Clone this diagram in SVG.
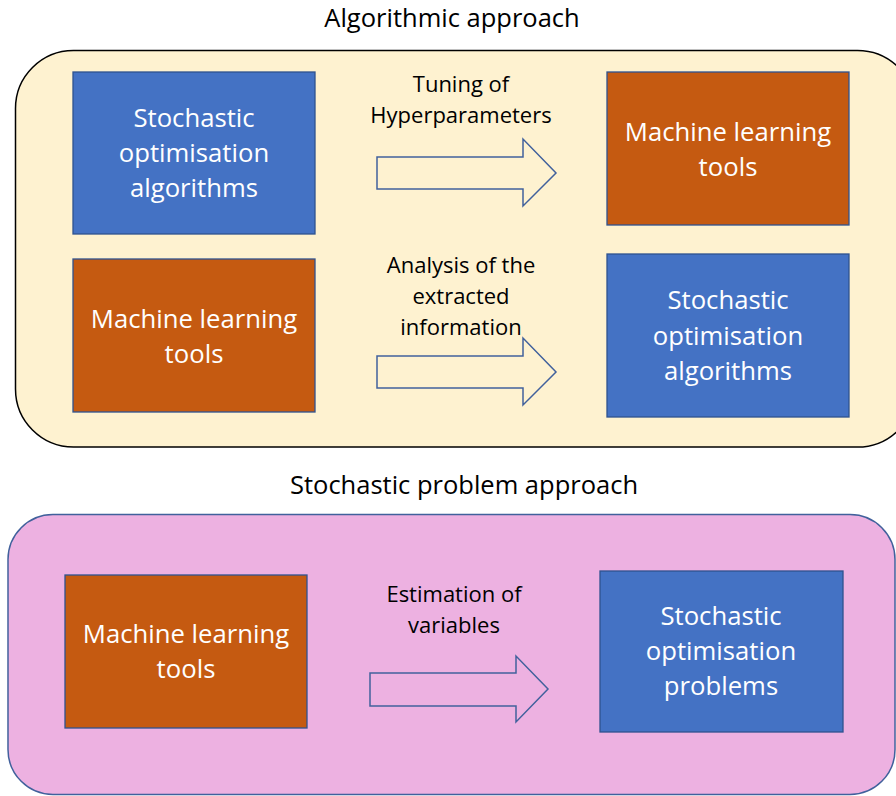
<svg xmlns="http://www.w3.org/2000/svg" width="896" height="796" viewBox="0 0 896 796">
  <style>
    .title { font-family: "Open Sans", Lato, sans-serif; font-size: 25.5px; fill: #000; text-anchor: middle; }
    .label { font-family: "Open Sans", Lato, sans-serif; font-size: 22px; fill: #000; text-anchor: middle; }
    .boxtext { font-family: "Open Sans", Lato, sans-serif; font-size: 25.7px; fill: #fff; text-anchor: middle; }
    .blue { fill: #4472C4; stroke: #2F528F; stroke-width: 1.3; }
    .orange { fill: #C55A11; stroke: #2F528F; stroke-width: 1.3; }
    .arrow { fill: none; stroke: #41619C; stroke-width: 1.5; stroke-linejoin: miter; }
  </style>

  <!-- Panels -->
  <g id="panel-algorithmic">
    <rect x="15.5" y="50.5" width="900" height="396.5" rx="58" ry="58" fill="#FEF2D0" stroke="#000" stroke-width="1.5"/>
    <text class="title" x="452" y="27">Algorithmic approach</text>
  </g>
  <g id="panel-stochastic">
    <rect x="8" y="514.5" width="887" height="280" rx="45" ry="45" fill="#EDB1E1" stroke="#41619C" stroke-width="1.5"/>
    <text class="title" x="464" y="494">Stochastic problem approach</text>
  </g>

  <!-- Nodes -->
  <g id="node-soa-1">
    <rect class="blue" x="73" y="72" width="242" height="162"/>
    <text class="boxtext" x="194" y="127">Stochastic</text>
    <text class="boxtext" x="194" y="162">optimisation</text>
    <text class="boxtext" x="194" y="197">algorithms</text>
  </g>
  <g id="node-ml-1">
    <rect class="orange" x="607" y="72" width="242" height="153"/>
    <text class="boxtext" x="728" y="141">Machine learning</text>
    <text class="boxtext" x="728" y="176">tools</text>
  </g>
  <g id="node-ml-2">
    <rect class="orange" x="73" y="259" width="242" height="153"/>
    <text class="boxtext" x="194" y="328">Machine learning</text>
    <text class="boxtext" x="194" y="363">tools</text>
  </g>
  <g id="node-soa-2">
    <rect class="blue" x="607" y="254" width="242" height="163"/>
    <text class="boxtext" x="728" y="309">Stochastic</text>
    <text class="boxtext" x="728" y="345">optimisation</text>
    <text class="boxtext" x="728" y="380">algorithms</text>
  </g>
  <g id="node-ml-3">
    <rect class="orange" x="65" y="575" width="242" height="153"/>
    <text class="boxtext" x="186" y="643">Machine learning</text>
    <text class="boxtext" x="186" y="678">tools</text>
  </g>
  <g id="node-sop">
    <rect class="blue" x="600" y="571" width="243" height="161"/>
    <text class="boxtext" x="721" y="625">Stochastic</text>
    <text class="boxtext" x="721" y="660">optimisation</text>
    <text class="boxtext" x="721" y="695">problems</text>
  </g>

  <!-- Connectors -->
  <g id="connectors">
    <path class="arrow" d="M377,157 H523 V139 L556,173 L523,206 V189 H377 Z"/>
    <text class="label" x="461" y="92">Tuning of</text>
    <text class="label" x="461" y="123">Hyperparameters</text>

    <path class="arrow" d="M377,356 H523 V338 L556,372 L523,405 V388 H377 Z"/>
    <text class="label" x="461" y="273">Analysis of the</text>
    <text class="label" x="461" y="304">extracted</text>
    <text class="label" x="461" y="335">information</text>

    <path class="arrow" d="M370,673 H516 V656 L548,689 L516,722 V706 H370 Z"/>
    <text class="label" x="454" y="602">Estimation of</text>
    <text class="label" x="454" y="633">variables</text>
  </g>
</svg>
